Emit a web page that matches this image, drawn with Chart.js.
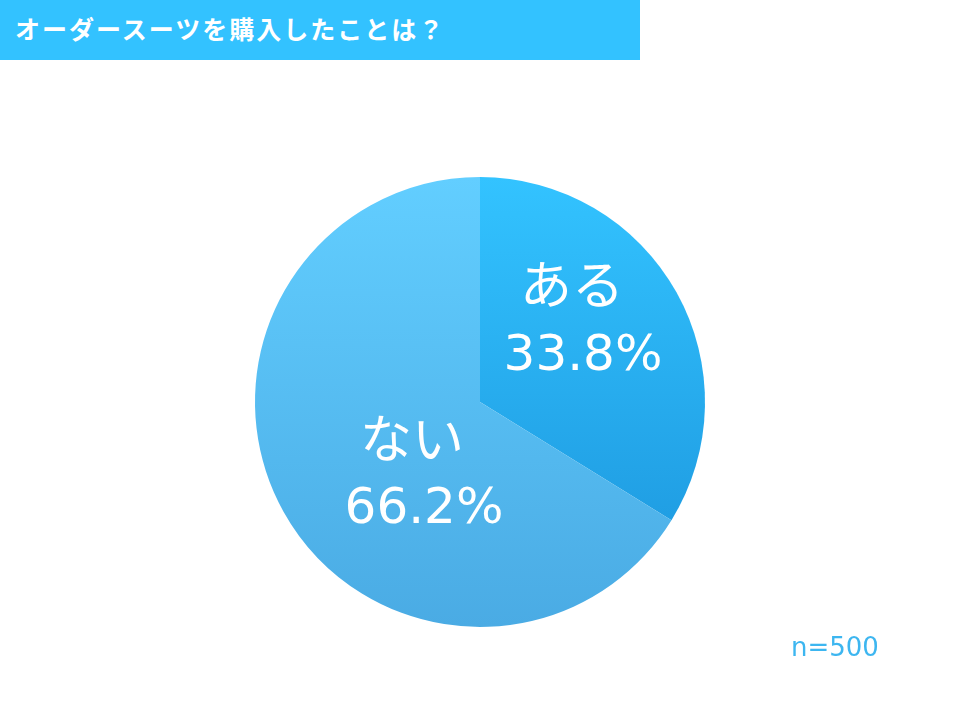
<!DOCTYPE html>
<html><head><meta charset="utf-8">
<script src="https://cdn.jsdelivr.net/npm/chart.js@4/dist/chart.umd.min.js"></script>
<style>
html,body{margin:0;padding:0;background:#fff;}
#wrap{position:relative;width:960px;height:720px;overflow:hidden;}
#title{position:absolute;left:0;top:0;width:640px;height:60px;background:#33C2FF;color:#fff;
 font:bold 25px "Noto Sans CJK JP","DejaVu Sans",sans-serif;line-height:56px;padding-left:15px;box-sizing:border-box;letter-spacing:2px;}
#note{position:absolute;left:791px;top:632px;color:#3DB6F0;font:26px "DejaVu Sans","Noto Sans",sans-serif;}
canvas{position:absolute;left:0;top:0;}
</style></head>
<body><div id="wrap"><canvas id="c" width="960" height="720"></canvas>
<div id="title">オーダースーツを購入したことは？</div>
<div id="note">n=500</div></div>
<script>
const categories = ["ある", "ない"];
const values = [33.8, 66.2];
const topColors = ["#33C3FF", "#62CEFF"];
const bottomColors = ["#1A93DB", "#4AABE4"];

function grad(ctx, i){
  const chart = ctx.chart;
  const a = chart.chartArea;
  if(!a) return topColors[i];
  const g = chart.ctx.createLinearGradient(0, a.top, 0, a.bottom);
  g.addColorStop(0, topColors[i]);
  g.addColorStop(1, bottomColors[i]);
  return g;
}

const labelPlugin = {
  id: 'sliceLabels',
  afterDatasetsDraw(chart, args, opts){
    const ctx = chart.ctx;
    const meta = chart.getDatasetMeta(0);
    meta.data.forEach((arc, i) => {
      const off = opts.offsets[i];
      const x = arc.x, y = arc.y;
      ctx.save();
      ctx.fillStyle = '#fff';
      ctx.textAlign = 'center';
      ctx.textBaseline = 'middle';
      ctx.font = '52px "DejaVu Sans","Noto Sans CJK JP",sans-serif';
      ctx.fillText(chart.data.labels[i], x + off[0], y + off[1]);
      ctx.font = '50px "DejaVu Sans","Noto Sans CJK JP",sans-serif';
      ctx.fillText(chart.data.datasets[0].data[i].toFixed(1) + '%', x + off[2], y + off[3]);
      ctx.restore();
    });
  }
};

new Chart(document.getElementById('c'), {
  type: 'pie',
  data: {
    labels: categories,
    datasets: [{
      data: values,
      backgroundColor: (ctx) => grad(ctx, ctx.dataIndex),
      borderWidth: 0
    }]
  },
  options: {
    responsive: false,
    animation: false,
    layout: { padding: { top: 177, bottom: 93, left: 0, right: 0 } },
    plugins: {
      legend: { display: false },
      tooltip: { enabled: false },
      sliceLabels: { offsets: [[92, -112, 103, -45], [-68, 42, -56, 108]] }
    }
  },
  plugins: [labelPlugin]
});
</script></body></html>
